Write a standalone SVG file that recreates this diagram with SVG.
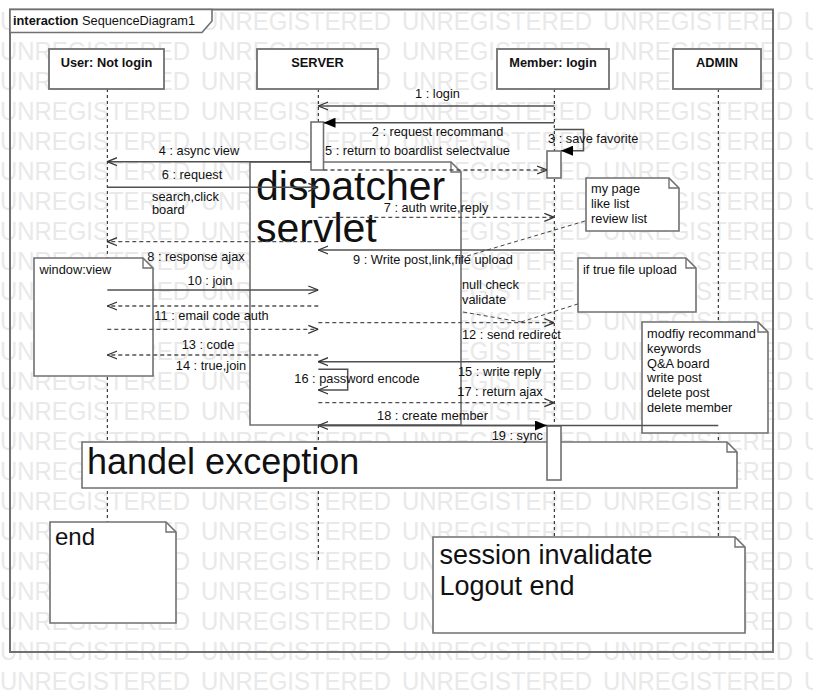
<svg xmlns="http://www.w3.org/2000/svg" xmlns:xlink="http://www.w3.org/1999/xlink" width="813" height="693" viewBox="0 0 813 693">
<style>
text{font-family:"Liberation Sans",Arial,sans-serif;fill:#111;}
.wm{font-size:26.5px;fill:#e9e9e9;}
.lbl{font-size:12.8px;}
.hdr{font-size:12.8px;font-weight:bold;text-anchor:middle;}
.mid{text-anchor:middle;}
.box{fill:#fff;stroke:#707070;stroke-width:1.8;}
.note{fill:#fff;stroke:#707070;stroke-width:1.6;}
.ear{fill:none;stroke:#707070;stroke-width:1.4;}
.life{stroke:#111;stroke-width:1;stroke-dasharray:3,3;fill:none;}
.msg{stroke:#505050;stroke-width:1.5;fill:none;}
.ret{stroke:#505050;stroke-width:1.3;stroke-dasharray:4,3;fill:none;}
.anc{stroke:#444;stroke-width:1;stroke-dasharray:4,3;fill:none;}
.act{fill:#fff;stroke:#707070;stroke-width:1.6;}
</style>
<defs>
<marker id="open" viewBox="0 0 10 10" refX="10" refY="5" markerWidth="10" markerHeight="10" markerUnits="userSpaceOnUse" orient="auto">
<path d="M0,1 L10,5 L0,9" fill="none" stroke="#333" stroke-width="1.3" stroke-dasharray="none"/>
</marker>
<marker id="fill" viewBox="0 0 12 10" refX="12" refY="5" markerWidth="12" markerHeight="10" markerUnits="userSpaceOnUse" orient="auto">
<path d="M0,0 L12,5 L0,10 Z" fill="#000" stroke="none"/>
</marker>
<g id="wmrow">
<text class="wm" x="0" textLength="190" lengthAdjust="spacingAndGlyphs">UNREGISTERED</text>
<text class="wm" x="201" textLength="190" lengthAdjust="spacingAndGlyphs">UNREGISTERED</text>
<text class="wm" x="402" textLength="190" lengthAdjust="spacingAndGlyphs">UNREGISTERED</text>
<text class="wm" x="603" textLength="190" lengthAdjust="spacingAndGlyphs">UNREGISTERED</text>
<text class="wm" x="804" textLength="190" lengthAdjust="spacingAndGlyphs">UNREGISTERED</text>
</g>
</defs>
<rect width="813" height="693" fill="#fff"/>
<g id="watermark">
<use xlink:href="#wmrow" y="30"/><use xlink:href="#wmrow" y="60"/><use xlink:href="#wmrow" y="90"/><use xlink:href="#wmrow" y="120"/>
<use xlink:href="#wmrow" y="150"/><use xlink:href="#wmrow" y="180"/><use xlink:href="#wmrow" y="210"/><use xlink:href="#wmrow" y="240"/>
<use xlink:href="#wmrow" y="270"/><use xlink:href="#wmrow" y="300"/><use xlink:href="#wmrow" y="330"/><use xlink:href="#wmrow" y="360"/>
<use xlink:href="#wmrow" y="390"/><use xlink:href="#wmrow" y="420"/><use xlink:href="#wmrow" y="450"/><use xlink:href="#wmrow" y="480"/>
<use xlink:href="#wmrow" y="510"/><use xlink:href="#wmrow" y="540"/><use xlink:href="#wmrow" y="570"/><use xlink:href="#wmrow" y="600"/>
<use xlink:href="#wmrow" y="630"/><use xlink:href="#wmrow" y="660"/><use xlink:href="#wmrow" y="690"/>
</g>
<g id="frame">
<rect x="10" y="9.5" width="763" height="642.5" fill="none" stroke="#707070" stroke-width="2"/>
<path d="M10,9.5 H212 V21 L202,32.5 H10 Z" fill="#fff" stroke="#707070" stroke-width="1.6"/>
<text class="lbl" x="13" y="25"><tspan font-weight="bold">interaction</tspan> SequenceDiagram1</text>
</g>
<g id="lifelines">
<path class="life" d="M107.3,89 V522"/>
<path class="life" d="M318.3,89 V560"/>
<path class="life" d="M554.3,89 V537"/>
<path class="life" d="M718.3,89 V537"/>
</g>
<g id="user">
<rect class="box" x="49" y="49" width="115" height="40"/>
<text class="hdr" x="106.5" y="67">User: Not login</text>
</g>
<g id="server">
<rect class="box" x="257" y="49" width="121" height="40"/>
<text class="hdr" x="317.5" y="67">SERVER</text>
</g>
<g id="member">
<rect class="box" x="497" y="49" width="112" height="40"/>
<text class="hdr" x="553" y="67">Member: login</text>
</g>
<g id="admin">
<rect class="box" x="673" y="49" width="88" height="40"/>
<text class="hdr" x="717" y="67">ADMIN</text>
</g>
<g id="note-dispatcher">
<path class="note" d="M250,162 H451 L461,172 V425 H250 Z"/>
<path class="ear" d="M451,162 V172 H461"/>
<text x="256" y="200" font-size="41">dispatcher</text>
<text x="256" y="242" font-size="41">servlet</text>
</g>
<g id="note-mypage">
<path class="note" d="M586,178 H669 L679,188 V231 H586 Z"/>
<path class="ear" d="M669,178 V188 H679"/>
<text class="lbl" x="591" y="193">my page</text>
<text class="lbl" x="591" y="208">like list</text>
<text class="lbl" x="591" y="223">review list</text>
</g>
<g id="note-window">
<path class="note" d="M34,258 H143 L153,268 V376 H34 Z"/>
<path class="ear" d="M143,258 V268 H153"/>
<text class="lbl" x="39.5" y="273.5">window:view</text>
</g>
<g id="note-iftrue">
<path class="note" d="M578,258 H686 L696,268 V312 H578 Z"/>
<path class="ear" d="M686,258 V268 H696"/>
<text class="lbl" x="583" y="273.5">if true file upload</text>
</g>
<g id="note-admin">
<path class="note" d="M642,322 H758 L768,332 V433 H642 Z"/>
<path class="ear" d="M758,322 V332 H768"/>
<text class="lbl" x="647" y="338">modfiy recommand</text>
<text class="lbl" x="647" y="352.5">keywords</text>
<text class="lbl" x="647" y="367.5">Q&amp;A board</text>
<text class="lbl" x="647" y="382">write post</text>
<text class="lbl" x="647" y="397">delete post</text>
<text class="lbl" x="647" y="411.5">delete member</text>
</g>
<g id="note-exception">
<path class="note" d="M82,442 H727 L737,452 V488 H82 Z"/>
<path class="ear" d="M727,442 V452 H737"/>
<text x="87" y="474" font-size="36">handel exception</text>
</g>
<g id="note-end">
<path class="note" d="M50,522 H166 L176,532 V623 H50 Z"/>
<path class="ear" d="M166,522 V532 H176"/>
<text x="55" y="545" font-size="24">end</text>
</g>
<g id="note-session">
<path class="note" d="M433,537 H735 L745,547 V633 H433 Z"/>
<path class="ear" d="M735,537 V547 H745"/>
<text x="439.5" y="564" font-size="27">session invalidate</text>
<text x="439.5" y="595" font-size="27">Logout end</text>
</g>
<g id="activations">
<rect class="act" x="311" y="122" width="12.5" height="48"/>
<rect class="act" x="547" y="151" width="14" height="27"/>
<rect class="act" x="547" y="426" width="14" height="54"/>
</g>
<g id="connectors">
<path class="msg" d="M554.3,106 H318.3" marker-end="url(#open)"/>
<path class="msg" d="M554.3,122.7 H323.5" marker-end="url(#fill)"/>
<path class="msg" d="M554.3,129.5 H583.5 V150.7 H561" marker-end="url(#fill)"/>
<path class="msg" d="M311,161.7 H107.3" marker-end="url(#open)"/>
<path class="ret" d="M323.5,170 H547" marker-end="url(#open)"/>
<path class="msg" d="M107.3,187.3 H318.3" marker-end="url(#open)"/>
<path class="ret" d="M318.3,217.3 H554.3" marker-end="url(#open)"/>
<path class="ret" d="M318.3,241.7 H107.3" marker-end="url(#open)"/>
<path class="msg" d="M554.3,250 H318.3" marker-end="url(#open)"/>
<path class="msg" d="M107.3,290 H318.3" marker-end="url(#open)"/>
<path class="ret" d="M318.3,306 H107.3" marker-end="url(#open)"/>
<path class="ret" d="M318.3,322.7 H554.3" marker-end="url(#open)"/>
<path class="ret" d="M107.3,329.3 H318.3" marker-end="url(#open)"/>
<path class="ret" d="M318.3,355 H107.3" marker-end="url(#open)"/>
<path class="msg" d="M554.3,361.7 H318.3" marker-end="url(#open)"/>
<path class="msg" d="M318.3,369.3 H347.7 V390 H318.3" marker-end="url(#open)"/>
<path class="ret" d="M318.3,402.7 H554.3" marker-end="url(#open)"/>
<path class="msg" d="M718.3,425.5 H318.3" marker-end="url(#open)"/>
<path class="msg" d="M318.3,425.5 H547" marker-end="url(#fill)"/>
<path class="anc" d="M585,221 L457,259"/>
<path class="anc" d="M463,312 L521,322"/>
<path class="anc" d="M521,322 L577.7,304"/>
</g>
<g id="labels">
<text class="lbl mid" x="437.5" y="97.5">1 : login</text>
<text class="lbl mid" x="437.5" y="136">2 : request recommand</text>
<text class="lbl" x="548" y="142.5">3 : save favorite</text>
<text class="lbl mid" x="199" y="155">4 : async view</text>
<text class="lbl" x="325" y="155">5 : return to boardlist selectvalue</text>
<text class="lbl mid" x="192" y="178.5">6 : request</text>
<text class="lbl" x="152" y="201">search,click</text>
<text class="lbl" x="152" y="213.5">board</text>
<text class="lbl mid" x="436" y="211.5">7 : auth write,reply</text>
<text class="lbl mid" x="196" y="260.5">8 : response ajax</text>
<text class="lbl" x="353" y="264">9 : Write post,link,file upload</text>
<text class="lbl mid" x="210" y="284.5">10 : join</text>
<text class="lbl" x="462" y="289">null check</text>
<text class="lbl" x="462" y="303.5">validate</text>
<text class="lbl mid" x="211.5" y="320">11 : email code auth</text>
<text class="lbl" x="462" y="338.5">12 : send redirect</text>
<text class="lbl mid" x="208" y="348.5">13 : code</text>
<text class="lbl mid" x="211" y="369.5">14 : true,join</text>
<text class="lbl" x="458" y="375.5">15 : write reply</text>
<text class="lbl" x="294.3" y="383">16 : password encode</text>
<text class="lbl" x="457.3" y="396">17 : return ajax</text>
<text class="lbl mid" x="432.5" y="419.5">18 : create member</text>
<text class="lbl" x="491.7" y="439.5">19 : sync</text>
</g>
</svg>
